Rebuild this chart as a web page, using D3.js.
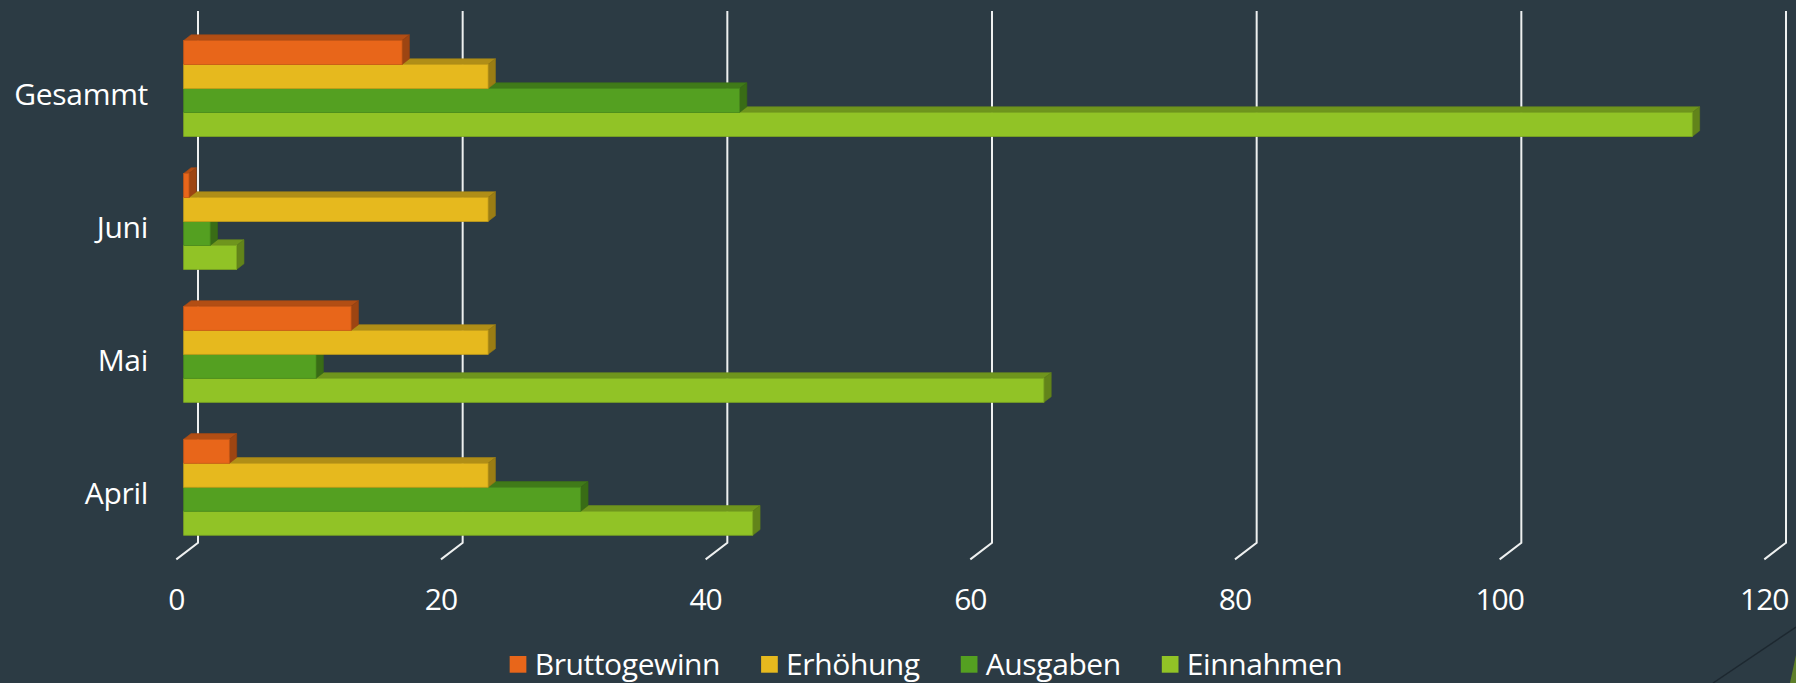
<!DOCTYPE html>
<html>
<head>
<meta charset="utf-8">
<script src="https://cdn.jsdelivr.net/npm/d3@7"></script>
<style>
  html, body { margin: 0; padding: 0; background: #2c3b44; }
  svg { display: block; }
</style>
</head>
<body>
<div id="chart"></div>
<script>
const categories = ['April', 'Mai', 'Juni', 'Gesammt'];
const seriesNames = ['Bruttogewinn', 'Erhöhung', 'Ausgaben', 'Einnahmen'];
const seriesColors = ['#e8661a', '#e6b91e', '#54a021', '#91c326'];
const bruttogewinn = [3.45, 12.65, 0.4, 16.5];
const erhoehung = [23, 23, 23, 23];
const ausgaben = [30, 10, 2, 42];
const einnahmen = [43, 65, 4, 114];
const xTicks = [0, 20, 40, 60, 80, 100, 120];

const seriesValues = [bruttogewinn, erhoehung, ausgaben, einnahmen];

const width = 1796;
const height = 683;
const depth = { x: -21.7, y: 16.7 }; // back wall -> front of floor
const barFront = 0.66; // depth fraction of bar front face
const barBack = 0.32;

const svg = d3
  .select('#chart')
  .append('svg')
  .attr('width', width)
  .attr('height', height)
  .style('font-family', '"Open Sans", sans-serif');

svg.append('rect').attr('width', width).attr('height', height).attr('fill', '#2c3b44');

// scales on the back wall
const x = d3.scaleLinear().domain([0, 120]).range([198, 1786]);
const y = d3
  .scaleBand()
  .domain(categories.slice().reverse())
  .range([11, 542.7])
  .paddingInner(0.278)
  .paddingOuter(0.139);
const ySeries = d3.scaleBand().domain(seriesNames).range([0, y.bandwidth()]);

const floorY = y.range()[1];

// gridlines with floor kink
svg
  .selectAll('.grid')
  .data(xTicks)
  .enter()
  .append('path')
  .attr('class', 'grid')
  .attr('d', (d) => `M${x(d)},${y.range()[0]}V${floorY}l${depth.x},${depth.y}`)
  .style('fill', 'none')
  .style('stroke', '#eef0f0')
  .style('stroke-width', '2px');

// tick labels
svg
  .selectAll('.tick-label')
  .data(xTicks)
  .enter()
  .append('text')
  .attr('class', 'tick-label')
  .attr('x', (d) => x(d) + depth.x)
  .attr('y', 610)
  .attr('text-anchor', 'middle')
  .attr('font-size', '30px')
  .attr('letter-spacing', '-1px')
  .style('fill', '#ffffff')
  .text((d) => d);

// category labels
svg
  .selectAll('.cat-label')
  .data(categories)
  .enter()
  .append('text')
  .attr('class', 'cat-label')
  .attr('x', 148)
  .attr('y', (d) => y(d) + y.bandwidth() / 2 + depth.y + 10.7)
  .attr('text-anchor', 'end')
  .attr('font-size', '30px')
  .attr('letter-spacing', '-0.3px')
  .style('fill', '#ffffff')
  .text((d) => d);

// 3D bars: lower bars first so upper front faces cover their top faces
const bars = [];
categories.forEach((cat, ci) => {
  seriesNames
    .slice()
    .reverse()
    .forEach((name) => {
      const si = seriesNames.indexOf(name);
      bars.push({ cat, name, value: seriesValues[si][ci], color: seriesColors[si] });
    });
});

const fx = depth.x * barFront;
const fy = depth.y * barFront;
const bdx = depth.x * (barBack - barFront);
const bdy = depth.y * (barBack - barFront);

const bar = svg
  .selectAll('.bar')
  .data(bars)
  .enter()
  .append('g')
  .attr('class', 'bar');

const geom = (d) => {
  const x0 = x(0) + fx;
  const x1 = x(d.value) + fx;
  const y0 = y(d.cat) + ySeries(d.name) + fy;
  const y1 = y0 + ySeries.bandwidth();
  return { x0, x1, y0, y1 };
};

// top face
bar
  .append('path')
  .attr('d', (d) => {
    const g = geom(d);
    return `M${g.x0},${g.y0}L${g.x1},${g.y0}L${g.x1 + bdx},${g.y0 + bdy}L${g.x0 + bdx},${g.y0 + bdy}Z`;
  })
  .style('fill', (d) => d3.color(d.color).darker(0.75))
  .style('stroke', (d) => d3.color(d.color).darker(0.9))
  .style('stroke-width', '0.6px');

// end face
bar
  .append('path')
  .attr('d', (d) => {
    const g = geom(d);
    return `M${g.x1},${g.y0}L${g.x1},${g.y1}L${g.x1 + bdx},${g.y1 + bdy}L${g.x1 + bdx},${g.y0 + bdy}Z`;
  })
  .style('fill', (d) => d3.color(d.color).darker(1.1))
  .style('stroke', (d) => d3.color(d.color).darker(1.2))
  .style('stroke-width', '0.6px');

// front face
bar
  .append('rect')
  .attr('x', (d) => geom(d).x0)
  .attr('y', (d) => geom(d).y0)
  .attr('width', (d) => geom(d).x1 - geom(d).x0)
  .attr('height', ySeries.bandwidth())
  .style('fill', (d) => d.color)
  .style('stroke', (d) => d3.color(d.color).darker(0.4))
  .style('stroke-width', '0.8px');

// legend, centred under the chart
const legend = svg.append('g').attr('class', 'legend');
const items = legend
  .selectAll('.item')
  .data(seriesNames)
  .enter()
  .append('g')
  .attr('class', 'item');

items
  .append('rect')
  .attr('y', 656)
  .attr('width', 16.7)
  .attr('height', 16.7)
  .style('fill', (d, i) => seriesColors[i]);

items
  .append('text')
  .attr('x', 25)
  .attr('y', 675)
  .attr('font-size', '30px')
  .attr('letter-spacing', '-0.4px')
  .style('fill', '#ffffff')
  .text((d) => d);

let cursor = 0;
items.each(function () {
  const w = 25 + d3.select(this).select('text').node().getComputedTextLength();
  d3.select(this).attr('transform', `translate(${cursor},0)`);
  cursor += w + 41;
});
const legendWidth = cursor - 41;
legend.attr('transform', `translate(${926 - legendWidth / 2},0)`);

// slide decoration in the corner
svg
  .append('path')
  .attr('d', 'M1713,683L1796,627')
  .style('stroke', '#1d2830')
  .style('stroke-width', '1.5px');
svg
  .append('path')
  .attr('d', 'M1790,683L1796,655L1796,683Z')
  .style('fill', '#5e7f2a');
</script>
</body>
</html>
